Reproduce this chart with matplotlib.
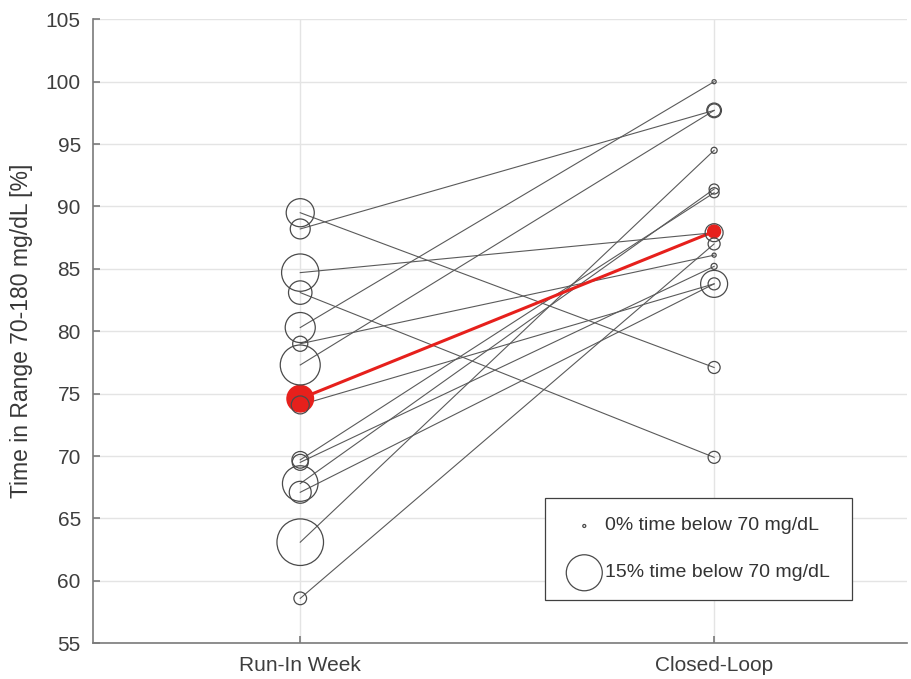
import numpy as np
import matplotlib.pyplot as plt
from matplotlib.patches import Rectangle

plt.rcParams['font.family'] = ['Liberation Sans', 'DejaVu Sans']

# time in range 70-180 mg/dL [%], one entry per subject
runin_tir = [89.5, 88.2, 84.7, 83.1, 80.3, 79.0, 77.3, 74.1, 69.7, 69.5, 67.8, 67.1, 63.1, 58.6]
closed_tir = [77.1, 97.7, 87.9, 69.9, 100.0, 86.1, 97.7, 83.8, 91.1, 85.2, 91.4, 83.8, 94.5, 87.0]
# time below 70 mg/dL [%] -> marker size
runin_hypo = [11.4, 7.7, 15.6, 9.3, 12.3, 5.5, 16.8, 6.8, 6.2, 5.9, 14.8, 8.6, 19.8, 4.4]
closed_hypo = [4.1, 5.3, 6.8, 4.1, 0.5, 0.5, 4.5, 10.9, 3.2, 1.4, 3.2, 4.1, 1.4, 4.1]
# mean subject (red)
mean_tir = [74.6, 88.0]
mean_hypo = [10.7, 4.5]

periods = ['Run-In Week', 'Closed-Loop']
legend_hypo = [0, 15]

gray = '#5a5a5a'
ring = '#4a4a4a'
red = '#e6201c'


def msize(h):
    # marker diameter in points
    return 1.44 * (1.5 + 1.1 * np.asarray(h))


fig = plt.figure(figsize=(9.12, 6.79), dpi=100)
ax = fig.add_axes([0.1023, 0.0526, 0.8922, 0.919])

for a, b in zip(runin_tir, closed_tir):
    ax.plot([1, 2], [a, b], color=gray, lw=0.8, zorder=2)

ax.plot([1, 2], mean_tir, color=red, lw=2.2, zorder=3)
ax.scatter([1, 2], mean_tir, s=msize(mean_hypo) ** 2, color=red, zorder=3)

ax.scatter(np.ones(len(runin_tir)), runin_tir, s=msize(runin_hypo) ** 2,
           facecolors='none', edgecolors=ring, linewidths=0.9, zorder=4)
ax.scatter(np.full(len(closed_tir), 2), closed_tir, s=msize(closed_hypo) ** 2,
           facecolors='none', edgecolors=ring, linewidths=0.9, zorder=4)

ax.set_xlim(0.5, 2.466)
ax.set_ylim(55, 105)
ax.set_yticks(np.arange(55, 106, 5))
ax.set_xticks([1, 2])
ax.set_xticklabels(periods)
ax.set_ylabel('Time in Range 70-180 mg/dL [%]', fontsize=16.5, color='#383838', labelpad=9)

ax.grid(True, color='#e4e4e4', lw=1.0)
ax.set_axisbelow(True)
for s in ['top', 'right']:
    ax.spines[s].set_visible(False)
for s in ['left', 'bottom']:
    ax.spines[s].set_color('#7a7a7a')
    ax.spines[s].set_linewidth(1.2)
ax.tick_params(direction='in', length=5, width=1.2, color='#7a7a7a',
               labelsize=15, labelcolor='#3e3e3e', pad=9)

# legend box drawn by hand
ax.add_patch(Rectangle((0.555, 0.0694), 0.377, 0.163, transform=ax.transAxes,
                       facecolor='white', edgecolor='#404040', lw=0.9, zorder=5))
leg_y = [0.188, 0.113]
ax.scatter([0.6034, 0.6034], leg_y, s=msize(legend_hypo) ** 2, transform=ax.transAxes,
           facecolors='none', edgecolors=ring, linewidths=0.9, zorder=6)
for h, y in zip(legend_hypo, leg_y):
    ax.text(0.629, y, f'{h}% time below 70 mg/dL', transform=ax.transAxes,
            fontsize=14, color='#333333', va='center', ha='left', zorder=6)

fig.savefig('out.png', dpi=100)
